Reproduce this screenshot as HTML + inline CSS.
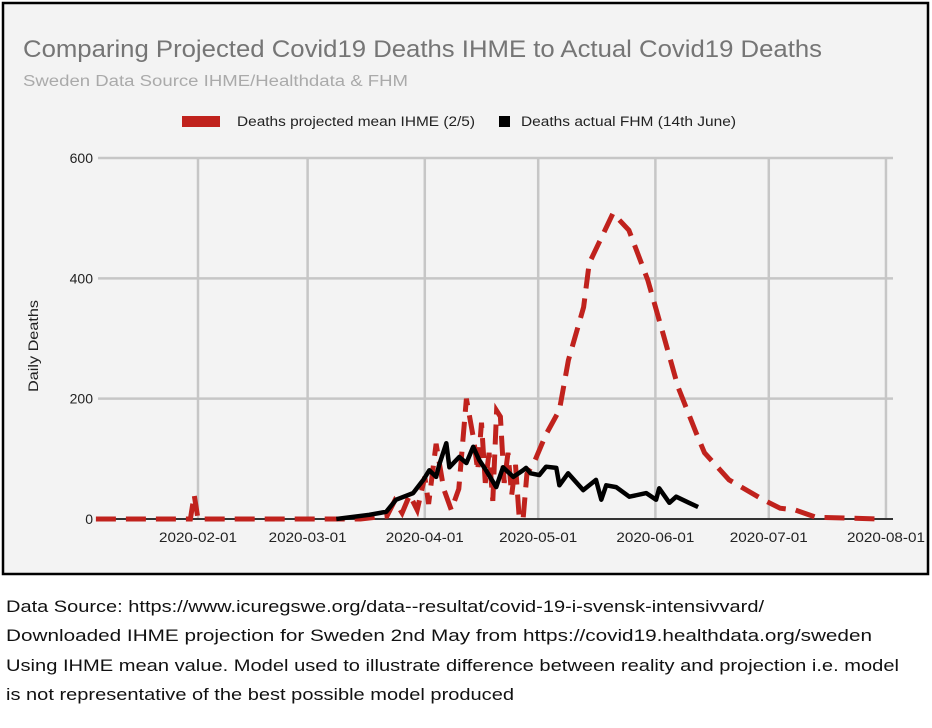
<!DOCTYPE html>
<html><head><meta charset="utf-8">
<style>
body{margin:0;background:#fff;width:932px;height:728px;overflow:hidden;font-family:"Liberation Sans",sans-serif;}
</style></head>
<body>
<svg width="932" height="728" style="position:absolute;left:0;top:0">
<rect x="3" y="3" width="925" height="571" fill="#f3f3f3" stroke="#000" stroke-width="2.5"/>
<text x="23" y="57" font-size="24" fill="#757575" font-family="Liberation Sans" textLength="799" lengthAdjust="spacingAndGlyphs">Comparing Projected Covid19 Deaths IHME to Actual Covid19 Deaths</text>
<text x="23" y="86" font-size="15.5" fill="#aaaaaa" font-family="Liberation Sans" textLength="385" lengthAdjust="spacingAndGlyphs">Sweden Data Source IHME/Healthdata &amp; FHM</text>
<g>
<rect x="182" y="116" width="38" height="11" fill="#c0221d"/>
<text x="237" y="126" font-size="13.5" fill="#222" font-family="Liberation Sans" textLength="238" lengthAdjust="spacingAndGlyphs">Deaths projected mean IHME (2/5)</text>
<rect x="499" y="116" width="11" height="11" fill="#000"/>
<text x="521" y="126" font-size="13.5" fill="#222" font-family="Liberation Sans" textLength="215" lengthAdjust="spacingAndGlyphs">Deaths actual FHM (14th June)</text>
</g>
<text transform="translate(38,346) rotate(-90)" text-anchor="middle" font-size="13.5" fill="#222" font-family="Liberation Sans" textLength="92" lengthAdjust="spacingAndGlyphs">Daily Deaths</text>
<g id="grid"></g>
<g id="series"></g>
<g font-family="Liberation Sans" font-size="17" fill="#111">
<text x="6" y="612" textLength="758" lengthAdjust="spacingAndGlyphs">Data Source: https://www.icuregswe.org/data--resultat/covid-19-i-svensk-intensivvard/</text>
<text x="6" y="641" textLength="866" lengthAdjust="spacingAndGlyphs">Downloaded IHME projection for Sweden 2nd May from https://covid19.healthdata.org/sweden</text>
<text x="6" y="671" textLength="893" lengthAdjust="spacingAndGlyphs">Using IHME mean value. Model used to illustrate difference between reality and projection i.e. model</text>
<text x="6" y="700" textLength="508" lengthAdjust="spacingAndGlyphs">is not representative of the best possible model produced</text>
</g>
</svg>
<script>
// day numbers = days since 2019-12-31 (Jan 1 = 1)
const yTicks=[0,200,400,600];
const xTickDays=[32,61,92,122,153,183,214];
const xTickLabels=["2020-02-01","2020-03-01","2020-04-01","2020-05-01","2020-06-01","2020-07-01","2020-08-01"];
const projDays=[5,30,31,32,75,82,84,86,88,90,92,93,95,97,99,101,103,105,106,107,108,109,110,111,112,113,114,115,116,117,118,119,121,124,127.6,130,134,135.5,141.8,146,151,155,159,163.8,166,172.5,181.5,186,190,195.5,212];
const projVals=[0,0,40,0,0,5,30,10,40,15,70,25,125,50,15,50,200,130,80,160,60,110,30,180,170,60,110,40,90,0,0,75,95,140,181,264,352,425,508,480,397,309,219,143,110,65,32,18,15,3,0];
const actDays=[68.6,77.3,81.8,84.4,88.9,91.6,93.2,95,95.8,97.7,98.5,101.1,103,104.8,106.4,108.2,110.9,112.7,115.4,118,118.8,120,122.3,124.1,126.8,127.6,129.9,133.9,137.3,138.7,140,142.6,146.1,150.6,153.2,154,156.7,158.5,161.9,164.3];
const actVals=[0,7,12,32,43,65,81,70,90,126,86,103,93,120,98,81,53,86,70,81,85,76,73,87,85,56,76,48,65,32,56,53,37,43,32,51,27,37,27,20];
const xS=d=>198+(d-32)*3.78;
const yS=v=>519-v*0.6017;
const NS="http://www.w3.org/2000/svg";
const grid=document.getElementById('grid'), ser=document.getElementById('series');
function mk(tag,attrs,parent){const e=document.createElementNS(NS,tag);for(const k in attrs)e.setAttribute(k,attrs[k]);parent.appendChild(e);return e;}
yTicks.forEach(v=>{
 const l=mk('line',{x1:98,x2:893,y1:yS(v),y2:yS(v),stroke:v===0?'#333':'#c6c6c6','stroke-width':v===0?2:2.5},grid);
 
 
 const t=mk('text',{x:93,y:yS(v)+5,'text-anchor':'end','font-size':14,fill:'#222','font-family':'Liberation Sans'},grid);
 t.textContent=v;
 
 
});
xTickDays.forEach((d,i)=>{
 const l=mk('line',{x1:xS(d),x2:xS(d),y1:yS(600),y2:yS(0)-1,stroke:'#c6c6c6','stroke-width':2.5},grid);
 
 
 const t=mk('text',{x:xS(d)-39,y:542,'font-size':14,fill:'#222','font-family':'Liberation Sans',textLength:78,lengthAdjust:'spacingAndGlyphs'},grid);
 t.textContent=xTickLabels[i];
 
 
});
const pp=projDays.map((d,i)=>xS(d).toFixed(1)+','+yS(projVals[i]).toFixed(1)).join(' ');
const p1=mk('polyline',{points:pp,fill:'none',stroke:'#c0221d','stroke-width':5,'stroke-dasharray':'20 10'},ser);


const ap=actDays.map((d,i)=>xS(d).toFixed(1)+','+yS(actVals[i]).toFixed(1)).join(' ');
const p2=mk('polyline',{points:ap,fill:'none',stroke:'#000','stroke-width':4.5,'stroke-linejoin':'round'},ser);


</script>
</body></html>
